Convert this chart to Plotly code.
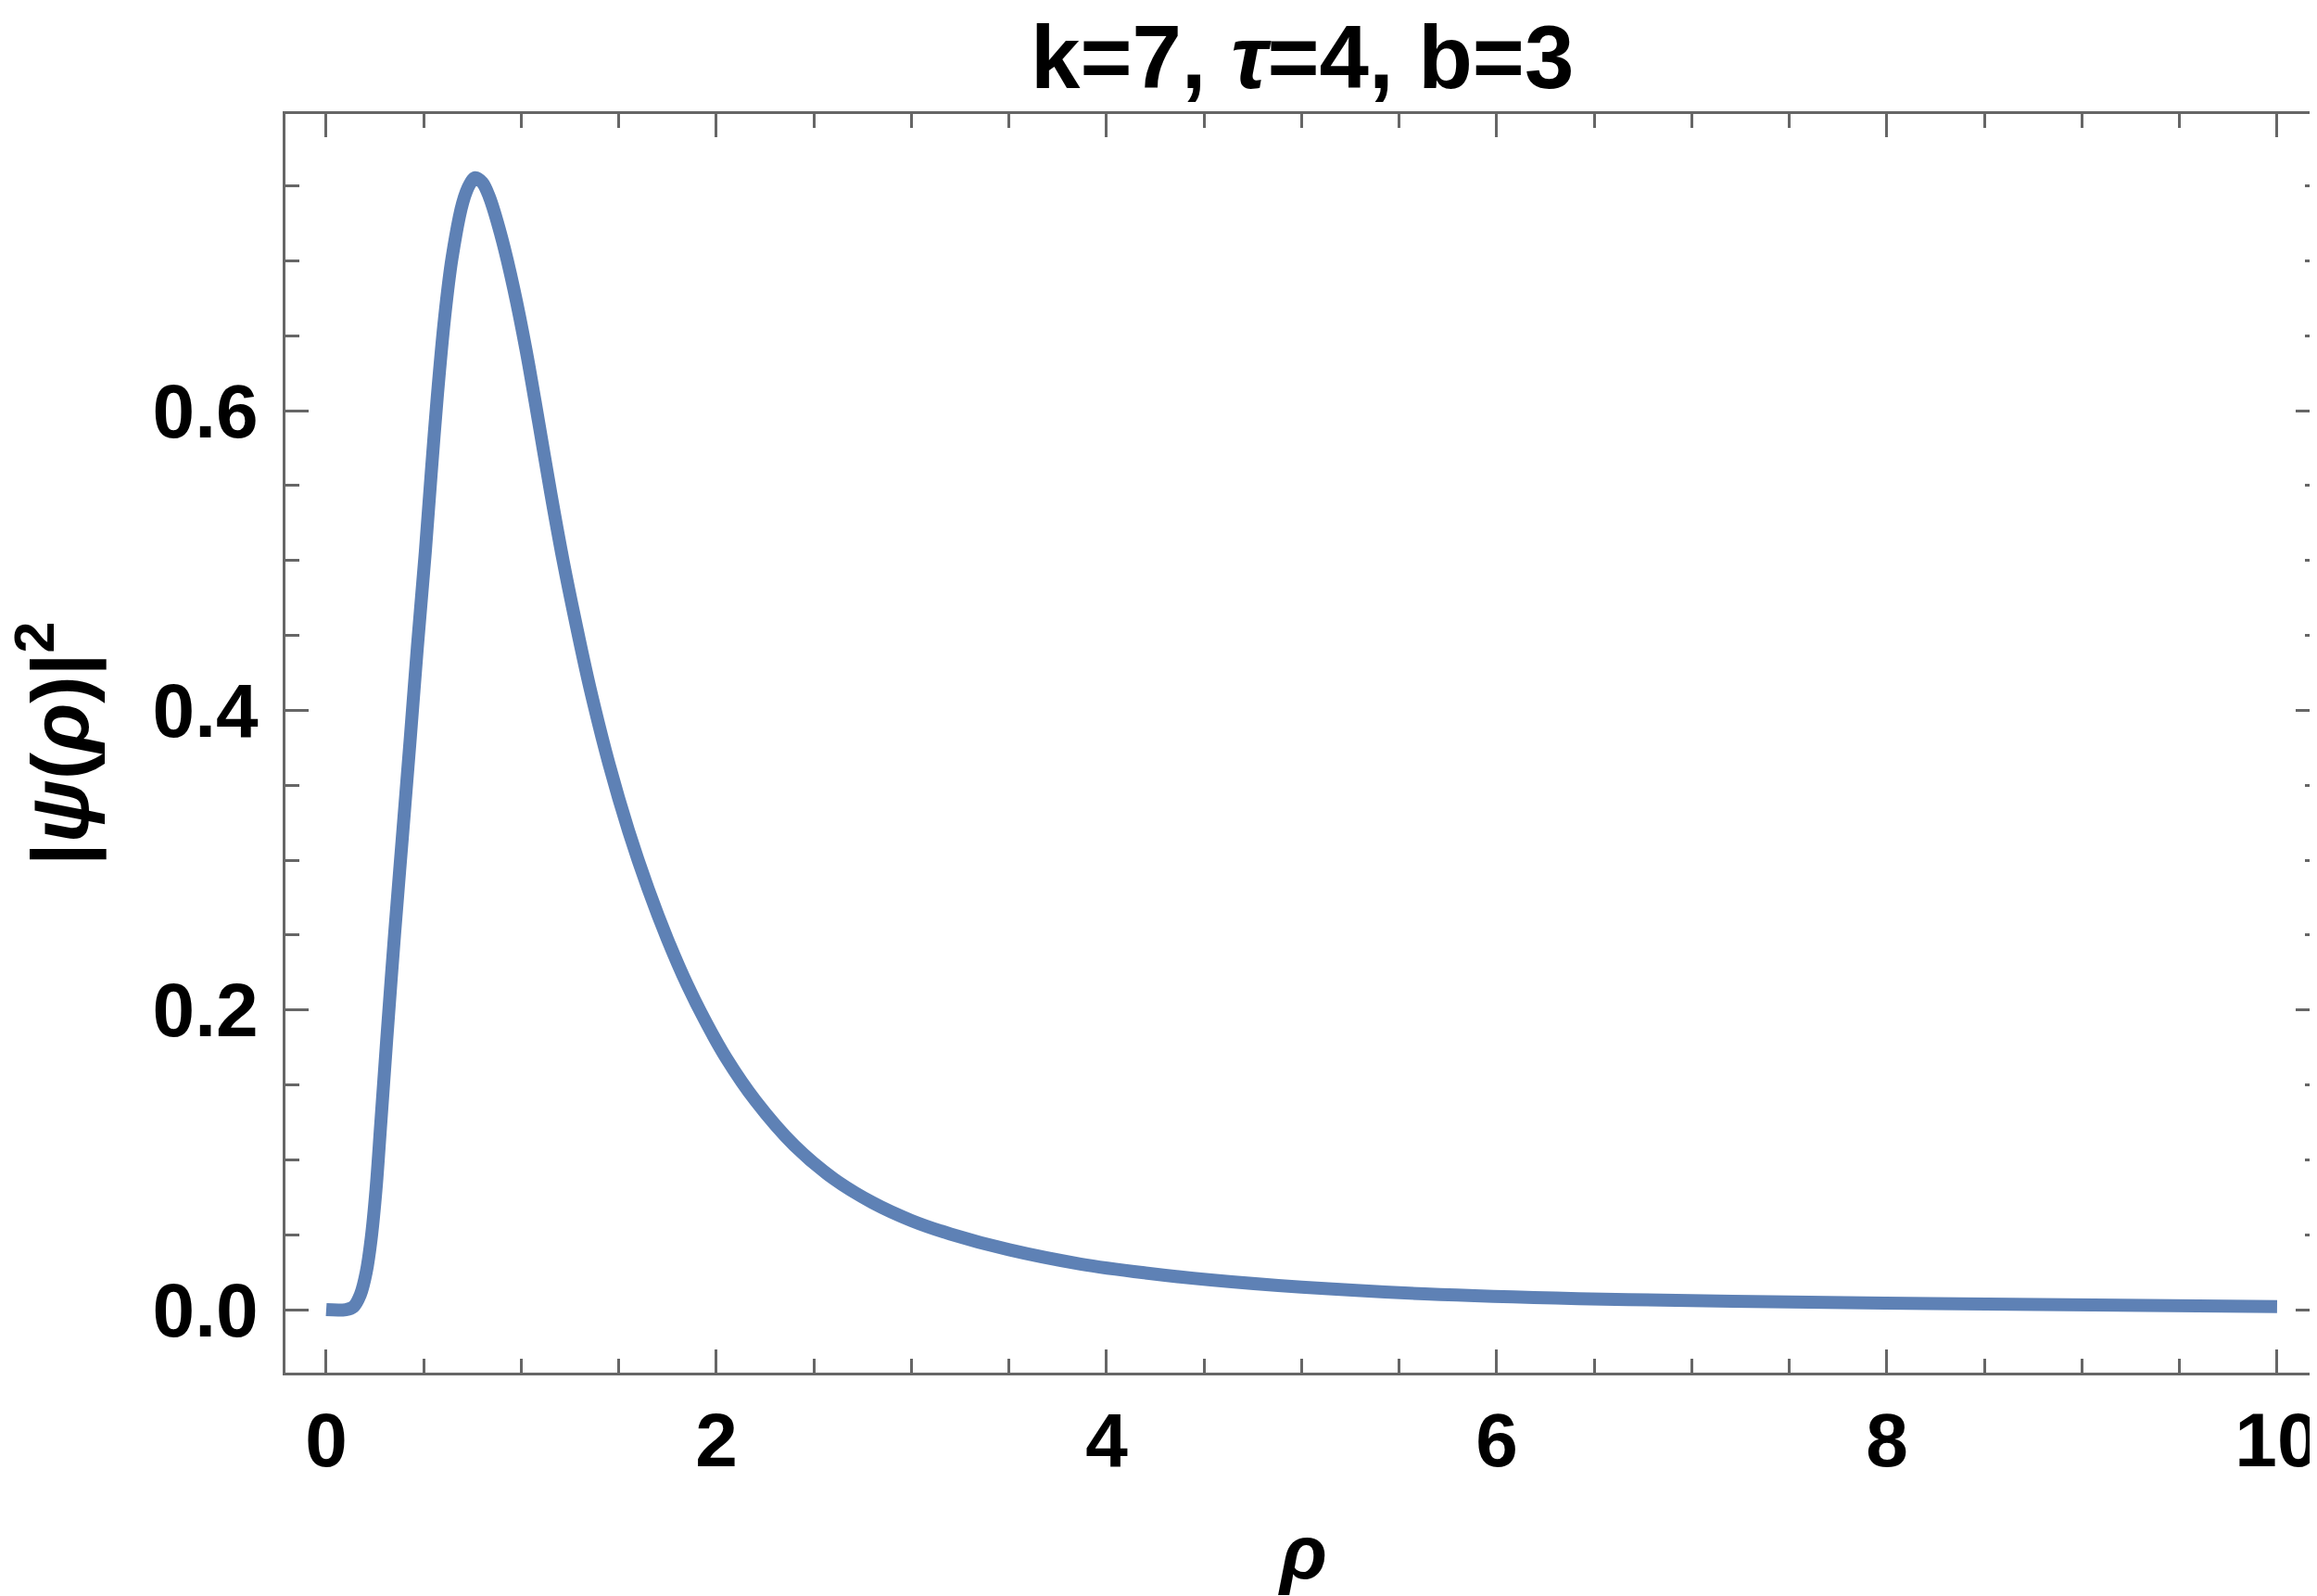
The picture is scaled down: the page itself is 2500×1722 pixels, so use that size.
import plotly.graph_objects as go

# values
rho = [0.0, 0.1, 0.14, 0.175, 0.205, 0.23, 0.255, 0.28, 0.31, 0.35,
       0.39, 0.43, 0.467, 0.508, 0.538, 0.569, 0.606, 0.645, 0.70, 0.735,
       0.764, 0.80, 0.835, 0.898, 0.962, 1.025, 1.088, 1.151, 1.214, 1.278,
       1.35, 1.45, 1.55, 1.65, 1.75, 1.85, 1.95, 2.05, 2.2, 2.4,
       2.6, 2.8, 3.0, 3.2, 3.5, 3.866, 4.2, 4.535, 5.0, 5.63,
       6.42, 7.21, 7.99, 8.78, 10.0]
psi_sq = [0.0, 0.0, 0.002, 0.010, 0.025, 0.047, 0.08, 0.125, 0.18, 0.25,
          0.315, 0.38, 0.442, 0.506, 0.558, 0.609, 0.661, 0.702, 0.739, 0.751,
          0.7555, 0.7523, 0.743, 0.716, 0.681, 0.640, 0.593, 0.545, 0.500, 0.459,
          0.416, 0.364, 0.3195, 0.281, 0.247, 0.217, 0.191, 0.168, 0.1395, 0.1095,
          0.0875, 0.0715, 0.0595, 0.0505, 0.040, 0.0305, 0.0245, 0.0198, 0.015, 0.0106,
          0.0074, 0.0057, 0.0044, 0.0034, 0.0021]

x_ticks = [0, 2, 4, 6, 8, 10]
y_ticks = [0.0, 0.2, 0.4, 0.6]

FONT = "Liberation Sans, Arial, sans-serif"
FRAME = "#666666"

fig = go.Figure()

fig.add_trace(
    go.Scatter(
        x=rho,
        y=psi_sq,
        mode="lines",
        line=dict(color="#5E81B5", width=14, shape="spline", smoothing=1.0),
        showlegend=False
    )
)

axis_common = dict(
    showline=True,
    linecolor=FRAME,
    linewidth=3,
    mirror="ticks",
    ticks="inside",
    ticklen=25,
    tickwidth=3,
    tickcolor=FRAME,
    showgrid=False,
    zeroline=False,
    tickfont=dict(family=FONT, size=82, color="black", weight="bold"),
)

fig.update_xaxes(
    range=[-0.209, 10.214],
    tickvals=x_ticks,
    minor=dict(dtick=0.5, ticks="inside", ticklen=15, tickwidth=3, tickcolor=FRAME),
    **axis_common
)
fig.update_yaxes(
    range=[-0.042, 0.798],
    tickvals=y_ticks,
    tickformat=".1f",
    ticklabelstandoff=10,
    minor=dict(dtick=0.05, ticks="inside", ticklen=15, tickwidth=3, tickcolor=FRAME),
    **axis_common
)

fig.add_annotation(
    text="<b>k=7, <i>τ</i>=4, b=3</b>",
    xref="paper", yref="paper", x=0.5, y=1.0045,
    xanchor="center", yanchor="bottom", showarrow=False,
    font=dict(family=FONT, size=96, color="black")
)
fig.add_annotation(
    text="<b>|<i>ψ</i>(<i>ρ</i>)|<sup>2</sup></b>",
    xref="paper", yref="paper", x=-0.114, y=0.5,
    xanchor="center", yanchor="middle", textangle=-90, showarrow=False,
    font=dict(family=FONT, size=88, color="black")
)
fig.add_annotation(
    text="<b><i>ρ</i></b>",
    xref="paper", yref="paper", x=0.5, y=-0.143,
    xanchor="center", yanchor="middle", showarrow=False,
    font=dict(family=FONT, size=84, color="black")
)

fig.update_layout(
    width=2500,
    height=1722,
    margin=dict(l=300, r=3, t=115, b=249),
    plot_bgcolor="white",
    paper_bgcolor="white",
)

fig.write_html("out.html")
